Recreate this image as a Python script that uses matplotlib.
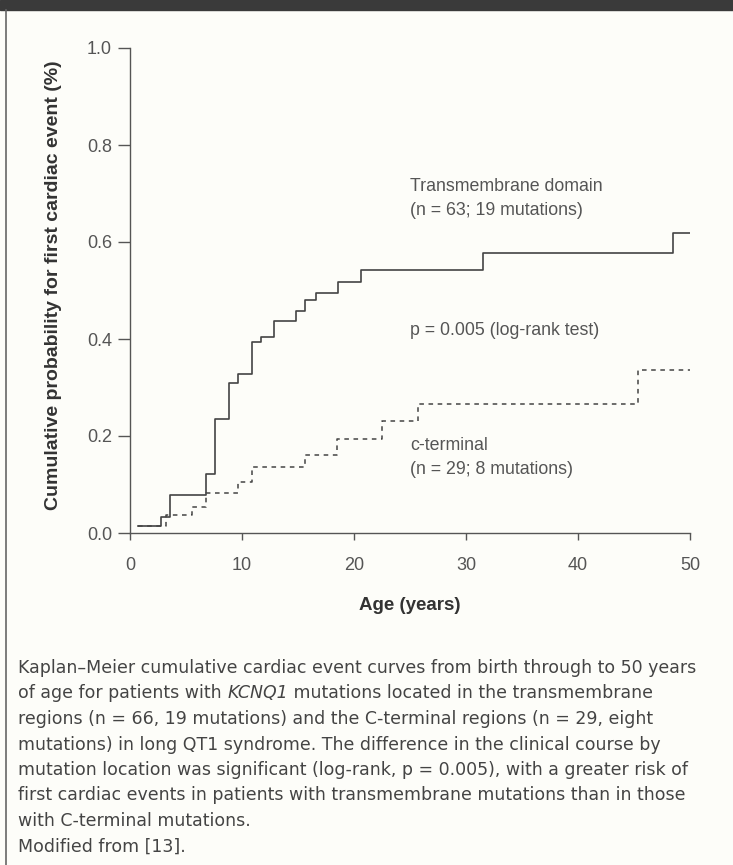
import matplotlib
matplotlib.use("Agg")
import matplotlib.pyplot as plt
from matplotlib.patches import Rectangle
from matplotlib.lines import Line2D

# transmembrane domain curve (step, post)
tm_age = [0.7, 2.8, 3.6, 6.8, 7.6, 8.8, 9.6, 10.9, 11.7, 12.9, 14.8, 15.6,
          16.6, 18.6, 20.6, 31.5, 48.5, 50.1]
tm_prob = [0.015, 0.032, 0.078, 0.121, 0.236, 0.309, 0.327, 0.394, 0.405,
           0.437, 0.458, 0.480, 0.495, 0.518, 0.542, 0.578, 0.619, 0.619]

# c-terminal curve
ct_age = [0.7, 3.2, 5.5, 6.8, 9.6, 10.9, 15.6, 18.5, 22.5, 25.7, 45.4, 50.2]
ct_prob = [0.015, 0.038, 0.054, 0.082, 0.106, 0.137, 0.161, 0.194, 0.231,
           0.266, 0.336, 0.336]

x_ticks = [0, 10, 20, 30, 40, 50]
y_ticks = [0.0, 0.2, 0.4, 0.6, 0.8, 1.0]

# caption lines; each line is a list of (text, italic) pieces
caption = [
    [("Kaplan\u2013Meier cumulative cardiac event curves from birth through to 50 years", False)],
    [("of age for patients with ", False), ("KCNQ1", True),
     (" mutations located in the transmembrane", False)],
    [("regions (n = 66, 19 mutations) and the C-terminal regions (n = 29, eight", False)],
    [("mutations) in long QT1 syndrome. The difference in the clinical course by", False)],
    [("mutation location was significant (log-rank, p = 0.005), with a greater risk of", False)],
    [("first cardiac events in patients with transmembrane mutations than in those", False)],
    [("with C-terminal mutations.", False)],
    [("Modified from [13].", False)],
]

plt.rcParams["font.family"] = ["Liberation Sans", "DejaVu Sans"]

W, H = 733, 865
fig = plt.figure(figsize=(W / 100, H / 100), dpi=100, facecolor="#fdfdf9")

# frame decorations
fig.patches.append(Rectangle((0, 1 - 10 / H), 1, 10 / H, transform=fig.transFigure,
                             color="#3a3a3a", zorder=0))
fig.lines.append(Line2D([6 / W, 6 / W], [0, 1 - 10 / H], transform=fig.transFigure,
                        color="#666666", lw=1.2))

ax = fig.add_axes([130 / W, (H - 533) / H, (690 - 130) / W, 485 / H])
ax.set_facecolor("none")

ink = "#444444"
ax.step(tm_age, tm_prob, where="post", color=ink, lw=1.2)
ax.step(ct_age, ct_prob, where="post", color=ink, lw=1.1, dashes=(3, 3))

ax.set_xlim(0, 50)
ax.set_ylim(0, 1.0)
ax.set_xticks(x_ticks)
ax.set_yticks(y_ticks)
ax.set_yticklabels([f"{v:.1f}" for v in y_ticks])
for s in ["top", "right"]:
    ax.spines[s].set_visible(False)
for s in ["left", "bottom"]:
    ax.spines[s].set_color("#555555")
    ax.spines[s].set_linewidth(1.0)
ax.tick_params(axis="both", direction="out", width=1.0, color="#555555",
               labelcolor="#555555", labelsize=13)
ax.tick_params(axis="y", length=9, pad=4)
ax.tick_params(axis="x", length=5, pad=12)

ax.set_xlabel("Age (years)", fontsize=13.5, fontweight="bold", color="#333333",
              labelpad=17)
ax.set_ylabel("Cumulative probability for first cardiac event (%)", fontsize=14,
              fontweight="bold", color="#333333")
ax.yaxis.set_label_coords(-0.122, 0.51)

tc = "#555555"
fs = 12.8
ax.text(25.0, 0.715, "Transmembrane domain", fontsize=fs, color=tc, va="center")
ax.text(25.0, 0.664, "(n = 63; 19 mutations)", fontsize=fs, color=tc, va="center")
ax.text(25.0, 0.418, "p = 0.005 (log-rank test)", fontsize=fs, color=tc, va="center")
ax.text(25.0, 0.180, "c-terminal", fontsize=fs, color=tc, va="center")
ax.text(25.0, 0.130, "(n = 29; 8 mutations)", fontsize=fs, color=tc, va="center")

renderer = fig.canvas.get_renderer()
y0 = 668
for i, pieces in enumerate(caption):
    x = 18
    for txt, ital in pieces:
        t = fig.text(x / W, 1 - (y0 + i * 25.5) / H, txt, fontsize=12.5,
                     family="DejaVu Sans", style="italic" if ital else "normal",
                     color="#444444", va="center", ha="left")
        x = t.get_window_extent(renderer).x1

fig.savefig("out.png", dpi=100, facecolor=fig.get_facecolor())
